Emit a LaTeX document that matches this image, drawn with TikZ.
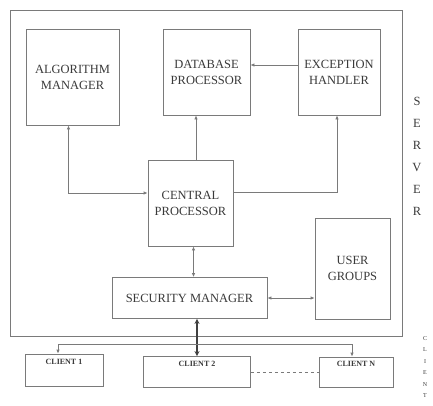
\documentclass[tikz,border=0pt]{standalone}
\usepackage{fontspec}
\setmainfont{Liberation Serif}
\usetikzlibrary{arrows.meta,calc}
\definecolor{edge}{HTML}{7A7A7A}
\definecolor{ink}{HTML}{3A3A3A}
\definecolor{dark}{HTML}{404040}
\tikzset{
  box/.style   ={draw=edge, line width=.8pt, fill=white, align=center, inner sep=2pt, font=\fontsize{12.5}{16}\selectfont, text=ink},
  cbox/.style  ={draw=edge, line width=.8pt, fill=white, inner sep=3pt, font=\fontsize{8}{9}\selectfont\bfseries, text=ink, text height=6pt, text depth=17pt},
  frame/.style ={draw=edge, line width=.8pt},
  ln/.style    ={draw=edge, line width=.8pt, -{Latex[length=4pt,width=3.5pt]}},
  lnb/.style   ={draw=edge, line width=.8pt, {Latex[length=4pt,width=3.5pt]}-{Latex[length=4pt,width=3.5pt]}},
  lnk/.style   ={draw=dark, line width=1.3pt, {Stealth[length=5pt,width=5pt]}-{Stealth[length=5pt,width=5pt]}},
  lnd/.style   ={draw=edge, line width=.8pt, dashed},
  vlbl/.style  ={align=center, text=ink, inner sep=0pt},
}
\begin{document}
\begin{tikzpicture}[x=1pt,y=-1pt]
    \useasboundingbox (0,0) rectangle (433,405);
    % server side
    \node[frame,minimum width=392pt,minimum height=326pt] (server) at (206,173) {};
    \node[box,minimum width=93pt,minimum height=96pt] (alg) at (72.5,77) {ALGORITHM\\MANAGER};
    \node[box,minimum width=87pt,minimum height=86pt] (db) at (206.5,72) {DATABASE\\PROCESSOR};
    \node[box,minimum width=82pt,minimum height=86pt] (exc) at (339,72) {EXCEPTION\\HANDLER};
    \node[box,minimum width=85pt,minimum height=86pt] (cen) at (190.5,203) {CENTRAL\\PROCESSOR};
    \node[box,minimum width=75pt,minimum height=101pt] (usr) at (352.5,268.5) {USER\\GROUPS};
    \node[box,minimum width=155pt,minimum height=41pt] (sec) at (189.5,298) {SECURITY MANAGER};
    \draw[lnb] ([xshift=-4pt]alg.south) |- ([yshift=10pt]cen.west);
    \draw[ln] ([xshift=5.5pt]cen.north) -- ([xshift=5.5pt]cen.north |- db.south);
    \draw[ln] ([yshift=11pt]cen.east) -| ([xshift=-2pt]exc.south);
    \draw[ln] ([yshift=7pt]exc.west) -- ([yshift=7pt]db.east);
    \draw[lnb] ([xshift=3pt]cen.south) -- ([xshift=3pt]cen.south |- sec.north);
    \draw[lnb] (sec.east) -- (sec.east -| usr.west);
    \node[vlbl,font=\fontsize{12.5}{22}\selectfont] (srvtag) at (417,156) {S\\E\\R\\V\\E\\R};
    % clients
    \node[cbox,minimum width=78pt,minimum height=32pt] (c1) at (64,370) {CLIENT 1};
    \node[cbox,minimum width=107pt,minimum height=31pt] (c2) at (197,372) {CLIENT 2};
    \node[cbox,minimum width=74pt,minimum height=30pt] (cn) at (356,372) {CLIENT N};
    \coordinate (bus) at (197,344);
    \draw[lnk] (c2.north |- sec.south) -- (c2.north);
    \draw[ln] (bus) -| ([xshift=-6pt]c1.north);
    \draw[ln] (bus) -| ([xshift=-4pt]cn.north);
    \draw[lnd] (c2.east) -- (cn.west);
    \node[vlbl,font=\fontsize{6}{11.5}\selectfont] (clitag) at (425,367) {C\\L\\I\\E\\N\\T};
\end{tikzpicture}
\end{document}
